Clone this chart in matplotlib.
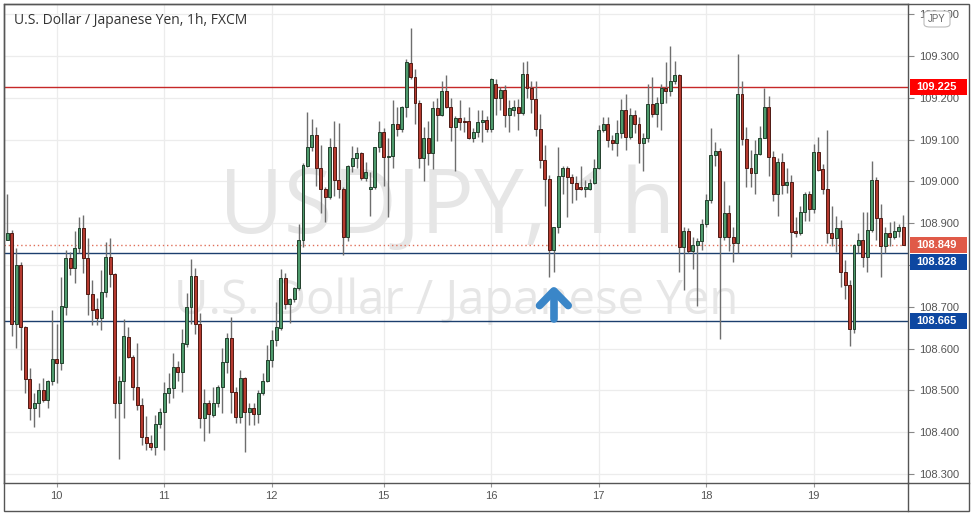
import matplotlib
matplotlib.use("Agg")
import matplotlib.pyplot as plt
import matplotlib.transforms as mtransforms
from matplotlib.patches import Rectangle, FancyBboxPatch
from matplotlib.lines import Line2D
import numpy as np

# hourly candles (USDJPY 1h, FXCM)
opens = [108.861, 108.876, 108.660, 108.800, 108.652, 108.527, 108.457, 108.471, 108.501, 108.477,
         108.522, 108.574, 108.565, 108.700, 108.816, 108.792, 108.840, 108.888, 108.816, 108.730,
         108.694, 108.674, 108.735, 108.818, 108.778, 108.469, 108.523, 108.628, 108.581, 108.507,
         108.465, 108.388, 108.374, 108.364, 108.420, 108.449, 108.493, 108.505, 108.555, 108.545,
         108.611, 108.699, 108.774, 108.659, 108.433, 108.471, 108.441, 108.471, 108.509, 108.569,
         108.625, 108.497, 108.437, 108.529, 108.449, 108.457, 108.443, 108.493, 108.523, 108.573,
         108.621, 108.649, 108.768, 108.706, 108.718, 108.744, 108.860, 109.038, 109.082, 109.111,
         109.031, 108.983, 108.962, 109.082, 109.003, 108.983, 108.868, 109.037, 109.055, 109.067,
         109.007, 108.981, 108.986, 109.082, 109.117, 109.058, 109.061, 109.137, 109.125, 109.177,
         109.284, 109.249, 109.188, 109.055, 109.105, 109.067, 109.175, 109.160, 109.216, 109.179,
         109.129, 109.151, 109.144, 109.144, 109.103, 109.117, 109.142, 109.148, 109.125, 109.233,
         109.199, 109.219, 109.160, 109.171, 109.177, 109.164, 109.257, 109.223, 109.196, 109.125,
         109.051, 109.005, 108.837, 108.890, 109.013, 109.033, 109.010, 108.995, 108.986, 108.983,
         108.983, 108.995, 109.031, 109.123, 109.137, 109.099, 109.091, 109.115, 109.172, 109.107,
         109.160, 109.137, 109.093, 109.105, 109.185, 109.161, 109.187, 109.223, 109.217, 109.241,
         109.255, 108.844, 108.882, 108.834, 108.848, 108.858, 108.898, 108.955, 109.063, 109.073,
         108.866, 108.925, 108.866, 108.853, 109.209, 109.101, 109.031, 109.021, 109.066, 109.105,
         109.177, 109.058, 108.970, 109.047, 108.991, 108.999, 108.882, 108.877, 108.928, 108.970,
         108.933, 109.070, 109.029, 108.981, 108.876, 108.864, 108.888, 108.784, 108.752, 108.646,
         108.848, 108.860, 108.820, 108.884, 109.003, 108.912, 108.845, 108.876, 108.868, 108.881,
         108.890]
highs = [108.971, 108.884, 108.840, 108.808, 108.655, 108.553, 108.495, 108.517, 108.529, 108.525,
         108.692, 108.660, 108.772, 108.836, 108.832, 108.882, 108.916, 108.920, 108.864, 108.764,
         108.720, 108.788, 108.856, 108.864, 108.780, 108.534, 108.672, 108.652, 108.585, 108.613,
         108.481, 108.439, 108.393, 108.441, 108.457, 108.521, 108.542, 108.589, 108.571, 108.648,
         108.732, 108.814, 108.792, 108.684, 108.503, 108.477, 108.509, 108.513, 108.601, 108.637,
         108.676, 108.509, 108.549, 108.533, 108.469, 108.469, 108.501, 108.541, 108.609, 108.645,
         108.712, 108.790, 108.780, 108.720, 108.748, 108.898, 109.043, 109.167, 109.149, 109.131,
         109.087, 108.987, 109.105, 109.145, 109.139, 108.987, 109.039, 109.085, 109.083, 109.071,
         109.047, 109.023, 109.083, 109.144, 109.127, 109.105, 109.195, 109.177, 109.180, 109.292,
         109.366, 109.270, 109.195, 109.129, 109.145, 109.192, 109.199, 109.239, 109.255, 109.199,
         109.156, 109.195, 109.153, 109.177, 109.127, 109.172, 109.171, 109.156, 109.247, 109.244,
         109.227, 109.231, 109.195, 109.195, 109.196, 109.286, 109.289, 109.239, 109.239, 109.161,
         109.087, 109.015, 108.892, 109.083, 109.037, 109.037, 109.018, 109.013, 109.037, 109.003,
         109.005, 109.053, 109.135, 109.153, 109.153, 109.111, 109.148, 109.197, 109.209, 109.175,
         109.171, 109.155, 109.115, 109.233, 109.249, 109.203, 109.233, 109.286, 109.324, 109.289,
         109.257, 108.892, 108.888, 108.868, 108.864, 108.909, 108.971, 109.127, 109.095, 109.079,
         109.002, 108.943, 108.892, 109.305, 109.239, 109.131, 109.075, 109.099, 109.133, 109.223,
         109.204, 109.073, 109.055, 109.067, 109.031, 109.015, 108.916, 108.941, 108.975, 108.978,
         109.090, 109.107, 109.042, 109.123, 108.940, 108.917, 108.908, 108.812, 108.763, 108.850,
         108.876, 108.928, 108.926, 109.049, 109.011, 108.946, 108.890, 108.904, 108.906, 108.898,
         108.920]
lows = [108.859, 108.629, 108.601, 108.549, 108.493, 108.429, 108.413, 108.437, 108.473, 108.457,
        108.513, 108.517, 108.549, 108.680, 108.776, 108.756, 108.828, 108.780, 108.680, 108.656,
        108.656, 108.644, 108.724, 108.748, 108.433, 108.337, 108.433, 108.577, 108.477, 108.453,
        108.369, 108.357, 108.357, 108.345, 108.409, 108.357, 108.469, 108.481, 108.523, 108.497,
        108.605, 108.659, 108.635, 108.409, 108.380, 108.399, 108.437, 108.461, 108.445, 108.541,
        108.445, 108.421, 108.421, 108.353, 108.417, 108.417, 108.421, 108.489, 108.519, 108.557,
        108.606, 108.645, 108.694, 108.662, 108.712, 108.740, 108.844, 109.035, 109.072, 108.989,
        108.924, 108.904, 108.958, 108.965, 108.960, 108.824, 108.858, 109.023, 109.031, 109.003,
        109.002, 108.917, 108.983, 109.071, 108.989, 108.914, 109.031, 109.109, 109.117, 109.155,
        109.244, 109.137, 109.031, 109.002, 109.039, 109.029, 109.097, 109.156, 109.175, 109.097,
        109.026, 109.123, 109.119, 109.101, 109.095, 109.107, 109.095, 109.119, 109.119, 109.159,
        109.172, 109.129, 109.117, 109.156, 109.123, 109.159, 109.199, 109.163, 109.109, 109.031,
        108.940, 108.771, 108.784, 108.877, 108.971, 108.916, 108.948, 108.955, 108.979, 108.962,
        108.979, 108.994, 109.029, 109.119, 109.083, 109.075, 109.061, 109.105, 109.075, 109.101,
        109.115, 109.045, 109.026, 109.095, 109.155, 109.131, 109.123, 109.188, 109.204, 109.233,
        108.784, 108.740, 108.828, 108.790, 108.702, 108.837, 108.892, 108.949, 109.037, 108.622,
        108.860, 108.834, 108.808, 108.829, 109.087, 108.987, 108.986, 108.971, 109.063, 109.103,
        109.013, 108.954, 108.917, 108.971, 108.973, 108.820, 108.868, 108.872, 108.906, 108.906,
        108.925, 109.026, 108.971, 108.853, 108.845, 108.830, 108.748, 108.718, 108.606, 108.637,
        108.828, 108.796, 108.784, 108.880, 108.860, 108.771, 108.828, 108.845, 108.862, 108.868,
        108.848]
closes = [108.876, 108.660, 108.800, 108.652, 108.527, 108.457, 108.471, 108.501, 108.477, 108.523,
          108.574, 108.565, 108.702, 108.816, 108.792, 108.840, 108.888, 108.816, 108.730, 108.692,
          108.674, 108.735, 108.818, 108.778, 108.469, 108.523, 108.629, 108.581, 108.507, 108.465,
          108.388, 108.374, 108.364, 108.420, 108.449, 108.493, 108.505, 108.555, 108.545, 108.614,
          108.700, 108.774, 108.659, 108.433, 108.471, 108.443, 108.471, 108.509, 108.569, 108.625,
          108.497, 108.437, 108.529, 108.449, 108.457, 108.443, 108.493, 108.523, 108.573, 108.621,
          108.651, 108.768, 108.706, 108.718, 108.744, 108.860, 109.039, 109.082, 109.111, 109.031,
          108.983, 108.962, 109.082, 109.003, 108.983, 108.868, 109.037, 109.057, 109.067, 109.007,
          109.023, 108.986, 109.082, 109.117, 109.058, 109.061, 109.137, 109.125, 109.177, 109.286,
          109.249, 109.188, 109.055, 109.105, 109.067, 109.175, 109.160, 109.216, 109.179, 109.129,
          109.151, 109.143, 109.142, 109.103, 109.117, 109.142, 109.148, 109.125, 109.244, 109.199,
          109.219, 109.160, 109.175, 109.177, 109.164, 109.257, 109.223, 109.196, 109.125, 109.051,
          109.005, 108.837, 108.890, 109.013, 109.033, 109.010, 108.995, 108.983, 108.983, 108.986,
          108.995, 109.031, 109.123, 109.137, 109.099, 109.091, 109.115, 109.172, 109.107, 109.160,
          109.137, 109.093, 109.105, 109.185, 109.161, 109.187, 109.223, 109.217, 109.241, 109.255,
          108.844, 108.882, 108.834, 108.848, 108.858, 108.898, 108.955, 109.063, 109.073, 108.866,
          108.925, 108.866, 108.853, 109.209, 109.101, 109.031, 109.021, 109.066, 109.105, 109.177,
          109.058, 108.970, 109.047, 108.991, 108.999, 108.880, 108.877, 108.928, 108.970, 108.933,
          109.070, 109.027, 108.981, 108.876, 108.864, 108.888, 108.784, 108.752, 108.646, 108.848,
          108.860, 108.820, 108.884, 109.003, 108.912, 108.845, 108.876, 108.868, 108.881, 108.890,
          108.849]

day_pos = [11, 35, 59, 84, 108, 132, 156, 180]
day_labels = ['10', '11', '12', '15', '16', '17', '18', '19']
price_ticks = [108.3, 108.4, 108.5, 108.6, 108.7, 108.8, 108.9, 109.0, 109.1, 109.2, 109.3, 109.4]

resistance = 109.225
support = [108.828, 108.665]
last_price = closes[-1]
arrow_bar = 122          # blue arrow under the bounce off support
arrow_tip = 108.738

W, H = 973, 515
fig = plt.figure(figsize=(W / 100, H / 100), dpi=100)
fig.patch.set_facecolor('white')
# plot area in pixels: x 4..908, y 4..483
ax = fig.add_axes([4 / W, (H - 483) / H, 904 / W, 479 / H])
ax.set_xlim(-0.74, 201.05)
ax.set_ylim(108.2785, 109.4244)
px = (109.4244 - 108.2785) / 479   # price per pixel

# grid
for p in price_ticks:
    ax.axhline(p, color='#ececec', lw=0.9, zorder=0)
for d in day_pos:
    ax.axvline(d, color='#ececec', lw=0.9, zorder=0)

# watermark
ax.text(0.49, 0.57, 'USDJPY, 1h', transform=ax.transAxes, ha='center', va='center',
        fontsize=64, color='#e6e6e6', family='Open Sans', zorder=0.5)
ax.text(0.5, 0.38, 'U.S. Dollar / Japanese Yen', transform=ax.transAxes, ha='center', va='center',
        fontsize=34, color='#e6e6e6', family='Open Sans', zorder=0.5)

# candles
x = np.arange(len(opens))
o = np.array(opens); c = np.array(closes)
up = c >= o
ax.vlines(x, lows, highs, color='#6e6e6e', lw=1.0, zorder=3)
body_low = np.minimum(o, c)
body_h = np.maximum(np.abs(c - o), 0.002)
ax.bar(x[up], body_h[up], bottom=body_low[up], width=0.66, color='#4e9a6c',
       edgecolor='#23402d', lw=0.7, zorder=4)
ax.bar(x[~up], body_h[~up], bottom=body_low[~up], width=0.66, color='#b53a2f',
       edgecolor='#4f1a14', lw=0.7, zorder=4)

# levels
ax.axhline(resistance, color='#c62828', lw=1.0, zorder=2)
for s in support:
    ax.axhline(s, color='#1c3f6e', lw=1.0, zorder=2)
ax.axhline(last_price, color='#e0705a', lw=1.0, ls=(0, (1, 2)), zorder=2)

# arrow
ax.plot([arrow_bar, arrow_bar], [arrow_tip - 0.003, arrow_tip - 0.066], color='#3a86c8',
        lw=5.5, solid_capstyle='round', zorder=5)
ax.plot([arrow_bar - 3.2, arrow_bar, arrow_bar + 3.2], [arrow_tip - 0.035, arrow_tip, arrow_tip - 0.035],
        color='#3a86c8', lw=5.5, solid_capstyle='round', solid_joinstyle='round', zorder=5)

# axes styling
for sp in ax.spines.values():
    sp.set_color('#555555')
    sp.set_linewidth(1.0)
ax.yaxis.tick_right()
ax.set_yticks(price_ticks)
ax.set_yticklabels([f'{p:.3f}' for p in price_ticks])
ax.tick_params(axis='y', length=4, width=0.8, color='#888888', labelsize=8, labelcolor='#555555',
               pad=4)
ax.set_xticks(day_pos)
ax.set_xticklabels(day_labels)
ax.tick_params(axis='x', length=3, width=0.8, color='#999999', labelsize=8, labelcolor='#555555',
               pad=3)
for lab in ax.get_yticklabels() + ax.get_xticklabels():
    lab.set_family('Liberation Sans')

# coloured price labels on the right scale (boxes stacked so they do not collide)
trans = mtransforms.blended_transform_factory(ax.transAxes, ax.transData)
box_w = 57 / 904
box_h = 16 * px
labels = [(resistance, resistance, '#ff0000'),
          (last_price, last_price, '#e05a48'),
          (support[0], last_price - 17 * px, '#0d47a1'),
          (support[1], support[1], '#0d47a1')]
for val, ypos, col in labels:
    ax.add_patch(Rectangle((1.002, ypos - box_h / 2), box_w, box_h, transform=trans,
                           facecolor=col, edgecolor='none', clip_on=False, zorder=10))
    ax.text(1.0095, ypos, f'{val:.3f}', transform=trans, ha='left', va='center', fontsize=8,
            color='white', fontweight='bold', family='Liberation Sans', clip_on=False, zorder=11)

# JPY badge
fig.patches.append(FancyBboxPatch((924 / W, (H - 27) / H), 26 / W, 16 / H,
                                  boxstyle='round,pad=0,rounding_size=0.006',
                                  transform=fig.transFigure, facecolor='white',
                                  edgecolor='#bbbbbb', lw=0.8, zorder=12))
fig.text(937 / W, (H - 19) / H, 'JPY', ha='center', va='center', fontsize=7, color='#666666',
         family='Liberation Sans', zorder=13)

# title
fig.text(14 / W, (H - 20) / H, 'U.S. Dollar / Japanese Yen, 1h, FXCM', ha='left', va='center',
         fontsize=10, color='#333333', family='Open Sans')

# outer frame and separators
fig.patches.append(Rectangle((4 / W, 4 / H), 965 / W, 507 / H, transform=fig.transFigure,
                             fill=False, edgecolor='#555555', lw=1.0))
fig.lines.append(Line2D([908 / W, 908 / W], [4 / H, (H - 483) / H], transform=fig.transFigure,
                        color='#555555', lw=1.0))
fig.lines.append(Line2D([908 / W, 969 / W], [(H - 483) / H, (H - 483) / H], transform=fig.transFigure,
                        color='#555555', lw=1.0))

fig.savefig('out.png', dpi=100)
